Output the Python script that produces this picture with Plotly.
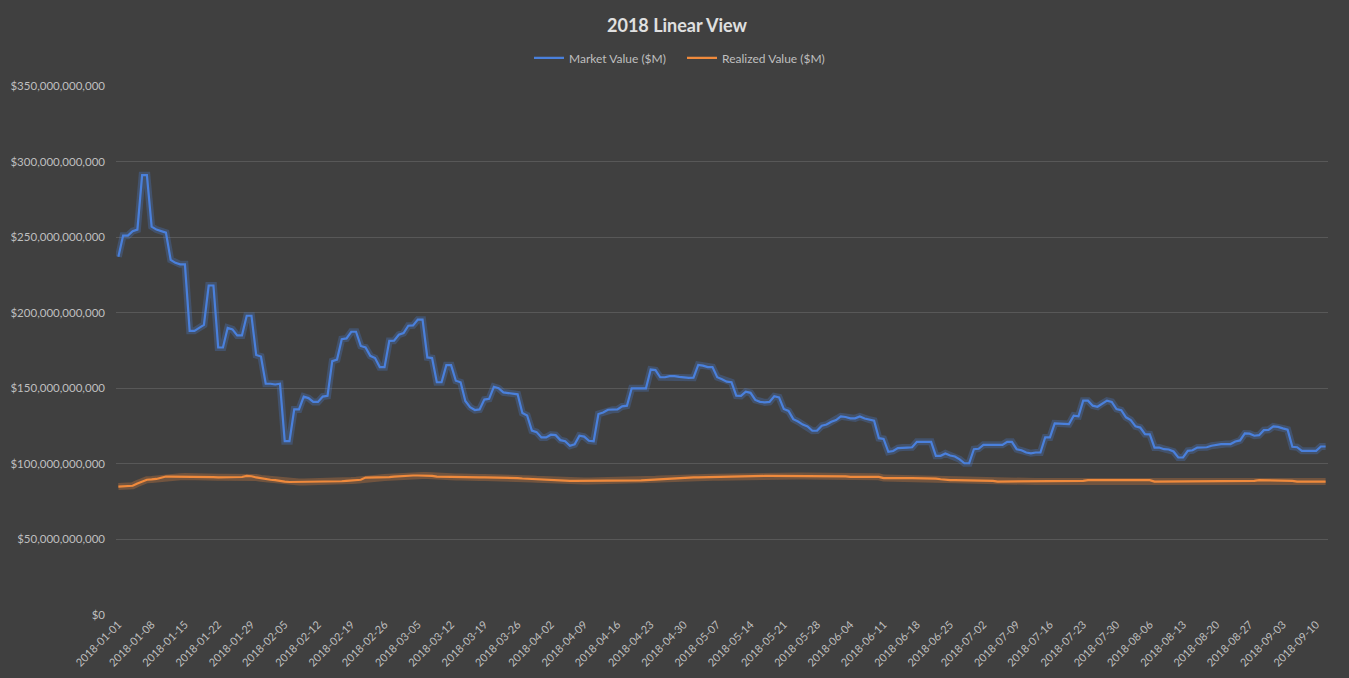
import pandas as pd
import plotly.graph_objects as go

# ---- data (values in billions of USD) ----
start_date = "2018-01-01"

market_value_bn = [
    237, 251, 251, 254, 255, 291, 291,
    257, 255, 254, 253, 235, 233, 232,
    232, 188, 188, 190, 192, 218, 218,
    177, 177, 190, 189, 185, 185, 198,
    198, 172, 171, 153, 153, 152.5, 153,
    115, 115, 136, 136, 144.5, 143.5, 141,
    141, 144.5, 145, 168, 169, 182.5, 183,
    187.4, 187.4, 178, 177, 171.5, 170, 164,
    164, 181.4, 181.5, 185.4, 186.5, 191.4, 191.6,
    195.4, 195.4, 170.4, 170, 154, 154, 165.3,
    165.3, 155, 154, 141.6, 137.5, 135.6, 136,
    142.5, 143, 151, 150, 147.3, 147, 146.5,
    146, 133.6, 132, 122, 121, 117.5, 117.5,
    119.3, 119, 115.7, 115, 112, 113, 118.6,
    118, 115.3, 115, 133, 134, 135.8, 135.8,
    136, 138, 138.5, 150, 150, 150, 150,
    162.4, 162, 157.3, 157.3, 158, 158, 157.5,
    157, 156.9, 157, 165.5, 165, 164, 164,
    157.3, 156, 154.4, 154, 145.1, 145, 147.8,
    147, 142.3, 141, 140.7, 141, 144.7, 144,
    136.3, 135, 129.6, 128, 126, 124.8, 121.9,
    122, 125.2, 126, 127.9, 129, 131.4, 131,
    130.1, 130.1, 131.4, 130, 129.2, 128.5, 117,
    116.5, 108, 108.5, 110.4, 110.8, 110.8, 111,
    114.6, 114.6, 114.6, 114.6, 105.3, 105.3, 106.9,
    105.5, 104.9, 103, 100.4, 100.4, 109.7, 110,
    112.6, 112.6, 112.6, 112.6, 112.6, 114.6, 114.6,
    109.7, 109, 107.5, 107, 107.5, 107.5, 117.5,
    117.5, 126.8, 126.8, 126.5, 126.3, 131.9, 131.5,
    141.8, 141.8, 138.5, 137.8, 140, 141.8, 141,
    136.3, 135.5, 130.8, 129, 124.8, 124, 119.7,
    119.5, 110.8, 110.8, 109.7, 109.5, 108.2, 104.2,
    104.2, 108.6, 109, 110.8, 110.8, 111, 112,
    112.6, 113, 113.1, 113.1, 114.8, 115.5, 120.1,
    120, 118.6, 119, 122.3, 122.5, 124.8, 124.5,
    123.5, 122.6, 111.3, 111, 108.6, 108.6, 108.6,
    108.6, 111.5, 111.5,
]

realized_value_bn = [
    85.0, 85.2, 85.4, 85.5, 87.0, 88.5, 89.5,
    89.7, 90.0, 90.8, 91.6, 91.6, 91.6, 91.5,
    91.6, 91.4, 91.2, 91.2, 91.3, 91.2, 91.2,
    91.1, 91.2, 91.2, 91.1, 91.2, 91.3, 92.0,
    91.8, 91.0, 90.4, 90.0, 89.5, 89.2, 88.6,
    88.2, 88.0, 88.0, 88.0, 88.0, 88.0, 88.0,
    88.0, 88.0, 88.0, 88.1, 88.3, 88.5, 88.8,
    89.0, 89.2, 89.5, 90.9, 90.9, 91.0, 91.0,
    91.0, 91.2, 91.5, 91.8, 92.0, 92.2, 92.3,
    92.3, 92.3, 92.3, 92.0, 91.5, 91.4, 91.4,
    91.3, 91.3, 91.3, 91.0, 91.0, 91.0, 91.0,
    91.0, 91.0, 91.0, 91.0, 91.0, 91.0, 91.0,
    90.6, 90.3, 90.1, 90.0, 89.8, 89.6, 89.3,
    89.0, 88.8, 88.7, 88.7, 88.7, 88.7, 88.7,
    88.7, 88.7, 88.7, 88.7, 88.7, 88.7, 88.7,
    88.7, 88.7, 88.7, 88.7, 88.9, 89.1, 89.3,
    89.5, 89.8, 90.0, 90.2, 90.4, 90.5, 90.6,
    90.7, 90.8, 91.0, 91.0, 91.1, 91.2, 91.2,
    91.2, 91.3, 91.3, 91.4, 91.4, 91.5, 92.0,
    92.0, 92.0, 92.0, 92.0, 92.0, 92.0, 92.0,
    92.0, 92.0, 92.0, 92.0, 92.0, 92.0, 92.0,
    92.0, 92.0, 92.0, 92.0, 92.0, 92.0, 91.7,
    91.4, 91.4, 91.4, 91.4, 91.4, 91.4, 91.4,
    90.6, 90.5, 90.5, 90.5, 90.5, 90.5, 90.5,
    90.5, 90.5, 90.5, 90.5, 90.2, 89.8, 89.4,
    89.2, 89.2, 89.2, 89.2, 89.2, 89.2, 89.2,
    89.2, 89.2, 88.8, 88.3, 88.3, 88.3, 88.3,
    88.3, 88.3, 88.3, 88.3, 88.3, 88.3, 88.3,
    88.3, 88.3, 88.3, 88.3, 88.3, 88.3, 88.3,
    88.7, 89.2, 89.2, 89.2, 89.2, 89.2, 89.2,
    89.2, 89.2, 89.2, 89.2, 89.2, 89.2, 89.2,
    89.2, 88.3, 88.3, 88.3, 88.3, 88.3, 88.3,
    88.3, 88.3, 88.3, 88.3, 88.3, 88.3, 88.3,
    88.3, 88.3, 88.3, 88.3, 88.3, 88.3, 88.3,
    88.3, 88.8, 89.2, 89.2, 89.2, 89.2, 89.2,
    89.2, 89.2, 88.8, 88.3, 88.3, 88.3, 88.3,
    88.3, 88.3, 88.3,
]

tick_labels = [
    "2018-01-01", "2018-01-08", "2018-01-15", "2018-01-22", "2018-01-29",
    "2018-02-05", "2018-02-12", "2018-02-19", "2018-02-26", "2018-03-05",
    "2018-03-12", "2018-03-19", "2018-03-26", "2018-04-02", "2018-04-09",
    "2018-04-16", "2018-04-23", "2018-04-30", "2018-05-07", "2018-05-14",
    "2018-05-21", "2018-05-28", "2018-06-04", "2018-06-11", "2018-06-18",
    "2018-06-25", "2018-07-02", "2018-07-09", "2018-07-16", "2018-07-23",
    "2018-07-30", "2018-08-06", "2018-08-13", "2018-08-20", "2018-08-27",
    "2018-09-03", "2018-09-10",
]

y_ticks_bn = [0, 50, 100, 150, 200, 250, 300, 350]

series_names = ["Market Value ($M)", "Realized Value ($M)"]

# ---- build ----
dates = pd.date_range(start_date, periods=len(market_value_bn), freq="D")
market = [v * 1e9 for v in market_value_bn]
realized = [v * 1e9 for v in realized_value_bn]

BG = "#404040"
GRID = "#585858"
TXT = "#bfbfbf"
BLUE = "#4a80dc"
ORANGE = "#f08a3c"
FONT = "Lato, 'Open Sans', sans-serif"

fig = go.Figure()

# soft glow underlays
fig.add_trace(go.Scatter(x=dates, y=market, mode="lines", showlegend=False, hoverinfo="skip",
                         line=dict(color="rgba(74,128,220,0.28)", width=7)))
fig.add_trace(go.Scatter(x=dates, y=realized, mode="lines", showlegend=False, hoverinfo="skip",
                         line=dict(color="rgba(240,138,60,0.28)", width=7)))

fig.add_trace(go.Scatter(x=dates, y=market, mode="lines", name=series_names[0],
                         line=dict(color=BLUE, width=2.2)))
fig.add_trace(go.Scatter(x=dates, y=realized, mode="lines", name=series_names[1],
                         line=dict(color=ORANGE, width=2.2)))

fig.update_layout(
    width=1349, height=678,
    paper_bgcolor=BG, plot_bgcolor=BG,
    margin=dict(l=116, r=21, t=86, b=63, autoexpand=False),
    font=dict(family=FONT, color=TXT, size=10),
    title=dict(text="<b>2018 Linear View</b>", x=677 / 1349, xanchor="center",
               y=1 - 26 / 678, yanchor="middle", yref="container",
               font=dict(size=18, color="#e0e0e0", family=FONT)),
    legend=dict(orientation="h", x=(529 - 116) / 1212, xanchor="left", y=1.053, yanchor="middle",
                font=dict(size=12, color=TXT), bgcolor="rgba(0,0,0,0)",
                itemwidth=30, traceorder="normal",
                entrywidth=108, entrywidthmode="pixels"),
    showlegend=True,
)

fig.update_xaxes(
    type="date", automargin=False,
    range=[dates[0] - pd.Timedelta(hours=12), dates[-1] + pd.Timedelta(hours=12)],
    tickmode="array", tickvals=pd.to_datetime(tick_labels), ticktext=tick_labels,
    tickangle=-45, tickfont=dict(size=11, color=TXT),
    showgrid=False, zeroline=False, showline=False, ticks="",
)

fig.update_yaxes(
    range=[0, 350e9], automargin=False,
    tickmode="array", tickvals=[v * 1e9 for v in y_ticks_bn],
    tickformat="$,.0f", tickfont=dict(size=11.5, color=TXT),
    showgrid=True, gridcolor=GRID, gridwidth=1,
    zeroline=False, showline=False, ticks="", ticklabelstandoff=10,
)

fig.write_html(
    "out.html",
    config={"displayModeBar": False},
    post_script="document.body.style.margin='0';document.body.style.overflow='hidden';",
)
